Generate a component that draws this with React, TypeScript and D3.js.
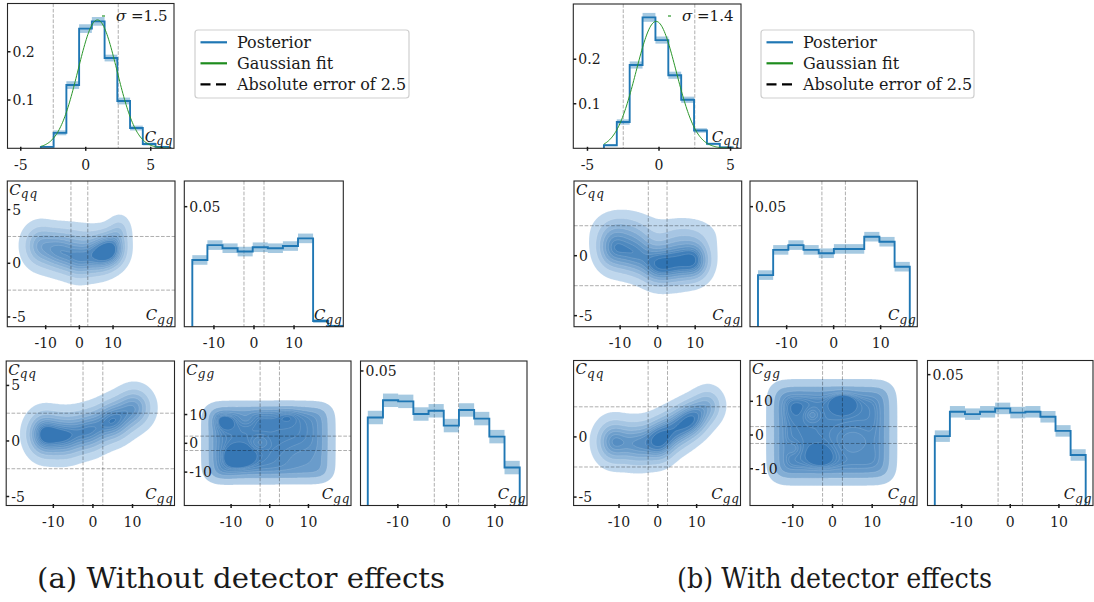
import React from "react";
import * as d3 from "d3";

const FONT = "'DejaVu Serif', 'Liberation Serif', serif";
const BLUE = "#1f77b4";
const GREEN = "#2a962a";
const DASH = "rgba(0,0,0,0.32)";
const INK = "#1a1a1a";

// ---------- 1D marginals: C_qq ----------
const qqEdgesNoDet = [-3.45, -2.47, -1.49, -0.51, 0.47, 1.45, 2.43, 3.41, 4.39, 5.37, 6.35];
const qqDensNoDet = [0.003, 0.032, 0.131, 0.248, 0.263, 0.187, 0.098, 0.042, 0.009, 0.003];
const qqErrNoDet = [0.002, 0.005, 0.008, 0.009, 0.009, 0.007, 0.007, 0.005, 0.003, 0.002];
const qqFitNoDet = { mu: 0.9, sigma: 1.5 };

const qqEdgesDet = [-3.85, -2.95, -2.05, -1.15, -0.25, 0.65, 1.55, 2.45, 3.35, 4.25, 5.15];
const qqDensDet = [0.007, 0.059, 0.187, 0.294, 0.243, 0.164, 0.109, 0.04, 0.01, 0.002];
const qqErrDet = [0.002, 0.006, 0.008, 0.01, 0.008, 0.008, 0.007, 0.005, 0.003, 0.002];
const qqFitDet = { mu: -0.2, sigma: 1.4 };

// ---------- 1D marginals: C_gg (second row) ----------
const ggEdgesNoDet = [-15.4, -11.63, -7.86, -4.09, -0.32, 3.45, 7.22, 10.99, 14.76, 18.53, 22.3];
const ggDensNoDet = [0.0278, 0.034, 0.0327, 0.0313, 0.0331, 0.0327, 0.0336, 0.0368, 0.0024, 0.0003];
const ggErrNoDet = [0.002, 0.002, 0.002, 0.002, 0.002, 0.002, 0.002, 0.002, 0.0008, 0.0005];

const ggEdgesDet = [-16.1, -12.87, -9.64, -6.41, -3.18, 0.05, 3.28, 6.51, 9.74, 12.97, 16.2];
const ggDensDet = [0.0215, 0.032, 0.034, 0.032, 0.0306, 0.0324, 0.0324, 0.0375, 0.0354, 0.025];
const ggErrDet = [0.002, 0.002, 0.002, 0.002, 0.002, 0.002, 0.002, 0.002, 0.002, 0.002];

// ---------- 1D marginals: C_gg (third row) ----------
const gg3EdgesNoDet = [-16.2, -13.07, -9.94, -6.81, -3.68, -0.55, 2.58, 5.71, 8.84, 11.97, 15.1];
const gg3DensNoDet = [0.0327, 0.0391, 0.0387, 0.034, 0.0352, 0.0297, 0.0355, 0.0323, 0.0256, 0.0141];
const gg3ErrNoDet = [0.0025, 0.0025, 0.0025, 0.0025, 0.0025, 0.0025, 0.0025, 0.0025, 0.0025, 0.0025];

const gg3EdgesDet = [-15.5, -12.4, -9.3, -6.2, -3.1, 0, 3.1, 6.2, 9.3, 12.4, 15.5];
const gg3DensDet = [0.0265, 0.0358, 0.0349, 0.0358, 0.0371, 0.0355, 0.0358, 0.0339, 0.0285, 0.0193];
const gg3ErrDet = [0.0022, 0.0022, 0.0022, 0.0022, 0.0022, 0.0022, 0.0022, 0.0022, 0.0022, 0.0022];

// ---------- 2D posteriors as Gaussian components [cx, cy, sx, sy, weight] ----------
type Blob = number[];
const ggQqNoDet: Blob[] = [
  [-12, 1.6, 3.2, 1.3, 0.75],
  [-6, 1.0, 3.2, 1.2, 0.85],
  [0, 0.4, 3.2, 1.2, 0.95],
  [6, 0.8, 3.0, 1.2, 1.0],
  [10, 1.3, 2.8, 1.1, 1.05],
  [12, 3.2, 2.2, 0.9, 0.35],
  [-2, 2.5, 6, 1.0, 0.25],
];
const gqQqNoDet: Blob[] = [
  [-12.5, 0.6, 2.8, 1.3, 1.0],
  [-7, 0.4, 3.0, 1.3, 0.85],
  [-1, 0.9, 3.0, 1.25, 0.8],
  [5, 1.8, 3.0, 1.2, 0.88],
  [10.5, 3.0, 3.0, 1.2, 0.72],
];
const ggQqDet: Blob[] = [
  [-12, 0.6, 3.0, 1.2, 0.85],
  [-6, 0.2, 3.2, 1.2, 0.85],
  [0, -0.8, 3.0, 1.1, 0.95],
  [5, -0.5, 3.0, 1.2, 0.85],
  [10, -0.4, 2.8, 1.1, 1.0],
  [-9, 2.3, 5, 1.0, 0.3],
  [7, 1.8, 6, 1.0, 0.25],
];
const gqQqDet: Blob[] = [
  [-11.5, -0.4, 3.0, 1.2, 0.95],
  [-5, -0.6, 3.0, 1.2, 0.85],
  [0.5, -0.3, 2.6, 1.15, 1.1],
  [5, 0.7, 2.8, 1.1, 0.9],
  [9, 1.5, 2.6, 1.0, 0.95],
  [13, 2.6, 2.6, 1.0, 0.6],
];

// C_gq vs C_gg: a soft-edged box [x-lo, x-hi, y-lo, y-hi] with edge widths, modulated by bumps
const gqGgBoxNoDet = [-16.0, 15.3, -12.3, 12.8];
const gqGgEdgeNoDet = [1.3, 1.5];
const gqGgBumpsNoDet: Blob[] = [
  [-12.5, 8.3, 2.2, 2.4, 0.2],
  [-8.2, -5.2, 2.6, 2.8, 0.2],
  [4.7, 11.2, 2.4, 2.4, 0.16],
  [-12, -12.5, 2.4, 2.4, 0.12],
  [-2, 11, 3, 3, 0.08],
  [-6.2, 8.7, 1.4, 1.5, -0.1],
  [-2.6, 0.3, 1.4, 1.5, -0.1],
  [9, -6, 4.5, 4, -0.12],
  [13, 5, 2.5, 6, -0.06],
];
const gqGgBoxDet = [-15.0, 14.6, -13.0, 14.6];
const gqGgEdgeDet = [1.3, 1.5];
const gqGgBumpsDet: Blob[] = [
  [2.6, 10.1, 2.2, 2.4, 0.24],
  [-3, -6.6, 2.4, 2.6, 0.16],
  [-10, 9, 3, 3, 0.08],
  [-5.2, 6, 1.4, 1.5, -0.1],
  [-9.9, -3.9, 1.4, 1.5, -0.08],
  [5, -2, 4, 4, -0.1],
  [-12, -12, 3, 3, 0.05],
];

function logistic(v: number) {
  return 1 / (1 + Math.exp(-v));
}

function blobSum(blobs: Blob[]) {
  return (x: number, y: number) => {
    let acc = 0;
    for (const [cx, cy, sx, sy, w] of blobs) {
      const dx = (x - cx) / sx;
      const dy = (y - cy) / sy;
      acc += w * Math.exp(-0.5 * (dx * dx + dy * dy));
    }
    return acc;
  };
}

function softBox(box: number[], edge: number[], bumps: Blob[]) {
  const mod = blobSum(bumps);
  return (x: number, y: number) =>
    logistic((x - box[0]) / edge[0]) *
    logistic((box[1] - x) / edge[0]) *
    logistic((y - box[2]) / edge[1]) *
    logistic((box[3] - y) / edge[1]) *
    (1 + mod(x, y));
}

const ERR = 2.5;

type R = [number, number, number, number];
type Density = (x: number, y: number) => number;

function scales(r: R, xd: number[], yd: number[]) {
  return {
    x: d3.scaleLinear().domain(xd).range([r[0], r[2]]),
    y: d3.scaleLinear().domain(yd).range([r[3], r[1]]),
  };
}

// density values enclosing decreasing probability mass (iso-proportion levels)
function isoLevels(values: number[], n: number, thresh = 0.05) {
  const sorted = Float64Array.from(values).sort().reverse();
  const total = d3.sum(sorted);
  const cum = new Float64Array(sorted.length);
  let acc = 0;
  for (let i = 0; i < sorted.length; i++) {
    acc += sorted[i];
    cum[i] = acc / total;
  }
  const out: number[] = [];
  for (let k = 0; k < n; k++) {
    const p = thresh + ((1 - thresh) * k) / (n - 1);
    let idx = d3.bisectLeft(cum as any, 1 - p);
    idx = Math.min(idx, sorted.length - 1);
    out.push(sorted[idx]);
  }
  return out;
}

const kdeColor = d3.interpolateRgb("rgb(204,224,242)", "rgb(40,110,176)");

function VarLabel({ x, y, sub, anchor }: { x: number; y: number; sub: string; anchor: string }) {
  return (
    <text x={x} y={y} textAnchor={anchor as any} fontFamily={FONT} fill={INK}>
      <tspan fontStyle="italic" fontSize={15}>C</tspan>
      <tspan fontStyle="italic" fontSize={12} dy={3.5} letterSpacing={1}>{sub}</tspan>
    </text>
  );
}

interface AxesProps {
  id: string;
  r: R;
  xd: number[];
  yd: number[];
  xTicks: number[];
  yTicks: number[];
  xLabel?: string;
  yLabel?: string;
  children: (s: ReturnType<typeof scales>) => React.ReactNode;
}

function Axes({ id, r, xd, yd, xTicks, yTicks, xLabel, yLabel, children }: AxesProps) {
  const s = scales(r, xd, yd);
  const [x0, y0, x1, y1] = r;
  return (
    <g>
      <defs>
        <clipPath id={id}>
          <rect x={x0} y={y0} width={x1 - x0} height={y1 - y0} />
        </clipPath>
      </defs>
      <g clipPath={`url(#${id})`}>{children(s)}</g>
      <rect x={x0} y={y0} width={x1 - x0} height={y1 - y0} fill="none" stroke="#262626" strokeWidth={1.1} />
      {xTicks.map((t) => (
        <g key={"x" + t}>
          <line x1={s.x(t)} x2={s.x(t)} y1={y1 - 1.5} y2={y1 + 2.5} stroke={INK} strokeWidth={1.5} />
          <text x={s.x(t)} y={y1 + 21.5} textAnchor="middle" fontFamily={FONT} fontSize={14} fill={INK}>
            {String(t)}
          </text>
        </g>
      ))}
      {yTicks.map((t) => (
        <g key={"y" + t}>
          <line x1={x0} x2={x0 + 3} y1={s.y(t)} y2={s.y(t)} stroke={INK} strokeWidth={1.5} />
          <text x={x0 + 5} y={s.y(t)} dy="0.36em" fontFamily={FONT} fontSize={14} fill={INK}>
            {String(t)}
          </text>
        </g>
      ))}
      {yLabel && <VarLabel x={x0 + 2} y={y0 + 13.5} sub={yLabel} anchor="start" />}
      {xLabel && <VarLabel x={x1 - 0.5} y={y1 - 6.5} sub={xLabel} anchor="end" />}
    </g>
  );
}

function HistMarks({ s, edges, dens, err }: { s: ReturnType<typeof scales>; edges: number[]; dens: number[]; err: number[] }) {
  const { x, y } = s;
  let d = `M${x(edges[0])},${y(0)}`;
  dens.forEach((h, i) => {
    d += `L${x(edges[i])},${y(h)}L${x(edges[i + 1])},${y(h)}`;
  });
  d += `L${x(edges[edges.length - 1])},${y(0)}`;
  return (
    <g>
      {dens.map((h, i) => (
        <rect
          key={i}
          x={x(edges[i])}
          y={y(h + err[i])}
          width={x(edges[i + 1]) - x(edges[i])}
          height={y(h - err[i]) - y(h + err[i])}
          fill={BLUE}
          fillOpacity={0.4}
        />
      ))}
      <path d={d} fill="none" stroke={BLUE} strokeWidth={1.9} />
    </g>
  );
}

function VDashes({ s, r }: { s: ReturnType<typeof scales>; r: R }) {
  return (
    <g>
      {[-ERR, ERR].map((v) => (
        <line key={v} x1={s.x(v)} x2={s.x(v)} y1={r[1]} y2={r[3]} stroke={DASH} strokeWidth={1} strokeDasharray="3.7,1.6" />
      ))}
    </g>
  );
}

function HDashes({ s, r }: { s: ReturnType<typeof scales>; r: R }) {
  return (
    <g>
      {[-ERR, ERR].map((v) => (
        <line key={v} y1={s.y(v)} y2={s.y(v)} x1={r[0]} x2={r[2]} stroke={DASH} strokeWidth={1} strokeDasharray="3.7,1.6" />
      ))}
    </g>
  );
}

function KdeMarks({ s, r, density }: { s: ReturnType<typeof scales>; r: R; density: Density }) {
  const nx = 130;
  const ny = 115;
  const xd = s.x.domain();
  const yd = s.y.domain();
  const values: number[] = new Array(nx * ny);
  for (let j = 0; j < ny; j++) {
    const yv = yd[1] - ((j + 0.5) / ny) * (yd[1] - yd[0]);
    for (let i = 0; i < nx; i++) {
      const xv = xd[0] + ((i + 0.5) / nx) * (xd[1] - xd[0]);
      values[j * nx + i] = density(xv, yv);
    }
  }
  const levels = isoLevels(values, 10);
  const lo = levels[0];
  const hi = levels[levels.length - 1];
  const contours = d3.contours().size([nx, ny]).thresholds(levels.slice(0, 9))(values);
  const kx = (r[2] - r[0]) / nx;
  const ky = (r[3] - r[1]) / ny;
  const path = d3.geoPath(
    d3.geoTransform({
      point(px: number, py: number) {
        (this as any).stream.point(r[0] + px * kx, r[1] + py * ky);
      },
    })
  );
  // each band is shaded by the density midway between its bounding levels
  return (
    <g>
      {contours.map((c, k) => {
        const mid = (levels[k] + levels[k + 1]) / 2;
        const t = (mid - lo) / (hi - lo);
        return <path key={k} d={path(c as any) || ""} fill={kdeColor(t)} stroke="#ffffff" strokeOpacity={0.28} strokeWidth={0.5} />;
      })}
    </g>
  );
}

function Gauss({ s, mu, sigma, lo, hi }: { s: ReturnType<typeof scales>; mu: number; sigma: number; lo: number; hi: number }) {
  const xs = d3.range(0, 161).map((k) => lo + ((hi - lo) * k) / 160);
  const line = d3
    .line<number>()
    .x((v) => s.x(v))
    .y((v) => s.y(Math.exp(-0.5 * ((v - mu) / sigma) ** 2) / (sigma * Math.sqrt(2 * Math.PI))));
  return <path d={line(xs) || ""} fill="none" stroke={GREEN} strokeWidth={1} />;
}

function Legend({ x, y, w }: { x: number; y: number; w: number }) {
  const rows = [
    { label: "Posterior", color: BLUE, dash: undefined as string | undefined },
    { label: "Gaussian fit", color: "#1e8c1e", dash: undefined },
    { label: "Absolute error of 2.5", color: "#000", dash: "10,5.5" },
  ];
  return (
    <g>
      <rect x={x} y={y} width={w} height={68} rx={3} fill="#fff" stroke="#cfcfcf" strokeWidth={1.2} />
      {rows.map((row, i) => (
        <g key={row.label}>
          <line x1={x + 5.5} x2={x + 32} y1={y + 12.3 + 21 * i} y2={y + 12.3 + 21 * i} stroke={row.color} strokeWidth={2.2} strokeDasharray={row.dash} />
          <text x={x + 42} y={y + 12.3 + 21 * i} dy="0.35em" fontFamily={FONT} fontSize={16} fill={INK}>
            {row.label}
          </text>
        </g>
      ))}
    </g>
  );
}

function SigmaNote({ x, y, value }: { x: number; y: number; value: number }) {
  return (
    <g>
      <line x1={x - 14} x2={x - 11} y1={y - 5} y2={y - 5} stroke={GREEN} strokeWidth={1.2} />
      <text x={x} y={y} fontFamily={FONT} fontSize={15} fill={INK}>
        <tspan fontStyle="italic">σ</tspan>
        <tspan> =</tspan>
        <tspan>{value.toFixed(1)}</tspan>
      </text>
    </g>
  );
}

interface CornerSpec {
  tag: string;
  a1: R; a1x: number[]; a1y: number[];
  b1: R; b1x: number[]; b1y: number[]; b1yt: number[];
  b2: R; b2x: number[]; b2y: number[];
  c1: R; c1x: number[]; c1y: number[]; c1yt: number[];
  c2: R; c2x: number[]; c2y: number[];
  c3: R; c3x: number[]; c3y: number[];
  qq: { edges: number[]; dens: number[]; err: number[]; fit: { mu: number; sigma: number } };
  gg: { edges: number[]; dens: number[]; err: number[] };
  gg3: { edges: number[]; dens: number[]; err: number[] };
  ggQq: Density; gqQq: Density; gqGg: Density;
  sigmaX: number;
}

function Corner({ c }: { c: CornerSpec }) {
  const q = c.qq;
  return (
    <g>
      <Axes id={c.tag + "a1"} r={c.a1} xd={c.a1x} yd={c.a1y} xTicks={[-5, 0, 5]} yTicks={[0.1, 0.2]} xLabel="qq">
        {(s) => (
          <g>
            <VDashes s={s} r={c.a1} />
            <HistMarks s={s} edges={q.edges} dens={q.dens} err={q.err} />
            <Gauss s={s} mu={q.fit.mu} sigma={q.fit.sigma} lo={q.edges[0]} hi={q.edges[q.edges.length - 1]} />
          </g>
        )}
      </Axes>
      <SigmaNote x={c.sigmaX} y={21} value={q.fit.sigma} />
      <Axes id={c.tag + "b1"} r={c.b1} xd={c.b1x} yd={c.b1y} xTicks={[-10, 0, 10]} yTicks={c.b1yt} xLabel="gg" yLabel="qq">
        {(s) => (
          <g>
            <KdeMarks s={s} r={c.b1} density={c.ggQq} />
            <VDashes s={s} r={c.b1} />
            <HDashes s={s} r={c.b1} />
          </g>
        )}
      </Axes>
      <Axes id={c.tag + "b2"} r={c.b2} xd={c.b2x} yd={c.b2y} xTicks={[-10, 0, 10]} yTicks={[0.05]} xLabel="gg">
        {(s) => (
          <g>
            <VDashes s={s} r={c.b2} />
            <HistMarks s={s} edges={c.gg.edges} dens={c.gg.dens} err={c.gg.err} />
          </g>
        )}
      </Axes>
      <Axes id={c.tag + "c1"} r={c.c1} xd={c.c1x} yd={c.c1y} xTicks={[-10, 0, 10]} yTicks={c.c1yt} xLabel="gq" yLabel="qq">
        {(s) => (
          <g>
            <KdeMarks s={s} r={c.c1} density={c.gqQq} />
            <VDashes s={s} r={c.c1} />
            <HDashes s={s} r={c.c1} />
          </g>
        )}
      </Axes>
      <Axes id={c.tag + "c2"} r={c.c2} xd={c.c2x} yd={c.c2y} xTicks={[-10, 0, 10]} yTicks={[-10, 0, 10]} xLabel="gq" yLabel="gg">
        {(s) => (
          <g>
            <KdeMarks s={s} r={c.c2} density={c.gqGg} />
            <VDashes s={s} r={c.c2} />
            <HDashes s={s} r={c.c2} />
          </g>
        )}
      </Axes>
      <Axes id={c.tag + "c3"} r={c.c3} xd={c.c3x} yd={c.c3y} xTicks={[-10, 0, 10]} yTicks={[0.05]} xLabel="gg">
        {(s) => (
          <g>
            <VDashes s={s} r={c.c3} />
            <HistMarks s={s} edges={c.gg3.edges} dens={c.gg3.dens} err={c.gg3.err} />
          </g>
        )}
      </Axes>
    </g>
  );
}

const noDet: CornerSpec = {
  tag: "nd",
  a1: [7.5, 3.5, 174, 148.3], a1x: [-6.02, 6.79], a1y: [0, 0.3],
  b1: [7.3, 181, 175, 326.7], b1x: [-21.4, 28.4], b1y: [-5.91, 7.67], b1yt: [-5, 0, 5],
  b2: [184.3, 181, 343.3, 326.7], b2x: [-17.4, 22.3], b2y: [0, 0.0607],
  c1: [6.2, 361, 174.5, 505.5], c1x: [-21.9, 20.6], c1y: [-5.81, 7.2], c1yt: [-5, 0, 5],
  c2: [184.3, 361, 351, 505.5], c2x: [-22.1, 21.0], c2y: [-21.6, 28.6],
  c3: [360.5, 361, 527, 505.5], c3x: [-17.7, 16.6], c3y: [0, 0.0537],
  qq: { edges: qqEdgesNoDet, dens: qqDensNoDet, err: qqErrNoDet, fit: qqFitNoDet },
  gg: { edges: ggEdgesNoDet, dens: ggDensNoDet, err: ggErrNoDet },
  gg3: { edges: gg3EdgesNoDet, dens: gg3DensNoDet, err: gg3ErrNoDet },
  ggQq: blobSum(ggQqNoDet),
  gqQq: blobSum(gqQqNoDet),
  gqGg: softBox(gqGgBoxNoDet, gqGgEdgeNoDet, gqGgBumpsNoDet),
  sigmaX: 116,
};

const withDet: CornerSpec = {
  tag: "wd",
  a1: [573.3, 4, 741, 148.3], a1x: [-5.99, 5.73], a1y: [0, 0.324],
  b1: [574, 181, 741.7, 326.7], b1x: [-22.3, 22.4], b1y: [-5.92, 6.23], b1yt: [-5, 0],
  b2: [750, 181, 917.3, 326.7], b2x: [-17.8, 17.8], b2y: [0, 0.0607],
  c1: [573.6, 360.5, 740.5, 505.5], c1x: [-21.7, 21.3], c1y: [-5.7, 6.35], c1yt: [-5, 0],
  c2: [750, 360.5, 917, 505.5], c2x: [-20.8, 21.3], c2y: [-20.9, 22.1],
  c3: [927.5, 360.5, 1093, 505.5], c3x: [-17.0, 17.0], c3y: [0, 0.0554],
  qq: { edges: qqEdgesDet, dens: qqDensDet, err: qqErrDet, fit: qqFitDet },
  gg: { edges: ggEdgesDet, dens: ggDensDet, err: ggErrDet },
  gg3: { edges: gg3EdgesDet, dens: gg3DensDet, err: gg3ErrDet },
  ggQq: blobSum(ggQqDet),
  gqQq: blobSum(gqQqDet),
  gqGg: softBox(gqGgBoxDet, gqGgEdgeDet, gqGgBumpsDet),
  sigmaX: 682,
};

export default function App() {
  return (
    <div style={{ position: "absolute", left: 0, top: 0 }}>
      <svg width={1094} height={602} viewBox="0 0 1094 602" style={{ display: "block", background: "#fff" }}>
        <Corner c={noDet} />
        <Corner c={withDet} />
        <Legend x={195} y={30} w={214} />
        <Legend x={761} y={30} w={213} />
        <text x={37} y={588} fontFamily={FONT} fontSize={27} fill={INK} textLength={408} lengthAdjust="spacingAndGlyphs">
          (a) Without detector effects
        </text>
        <text x={677} y={588} fontFamily={FONT} fontSize={27} fill={INK} textLength={315} lengthAdjust="spacingAndGlyphs">
          (b) With detector effects
        </text>
      </svg>
    </div>
  );
}
